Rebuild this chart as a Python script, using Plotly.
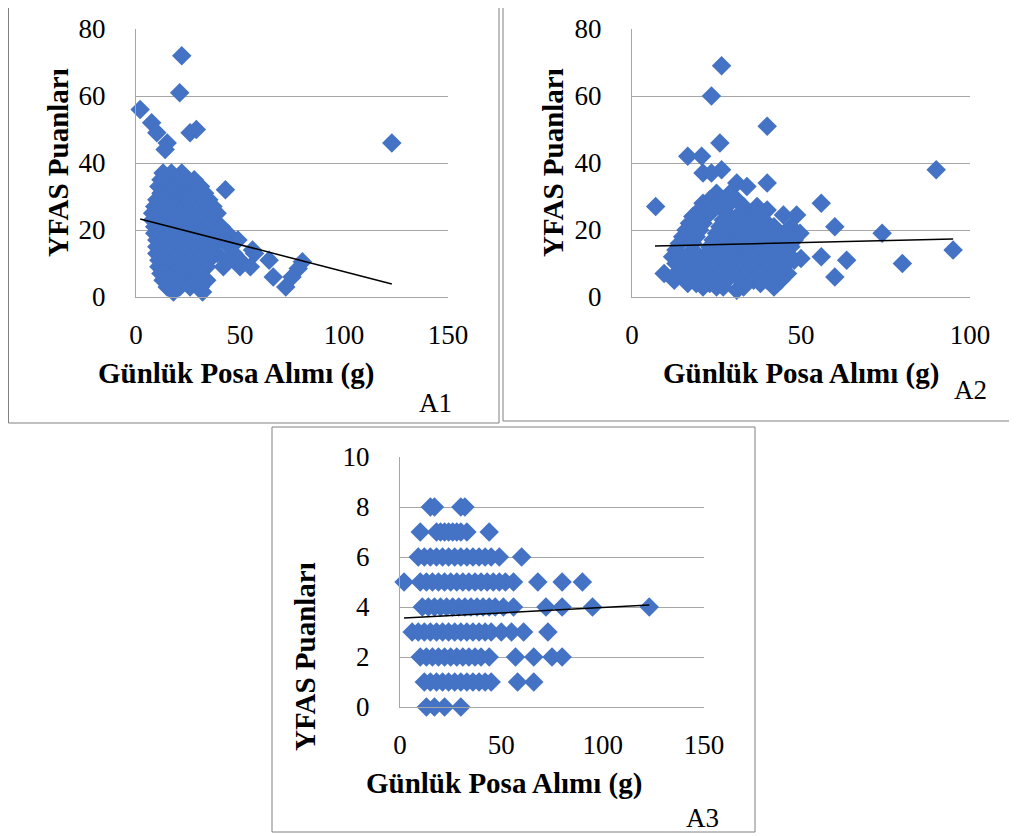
import plotly.graph_objects as go

W, H = 1017, 836
OFF = 8  # page body margin seen in the rendered page

# ---------------- data ----------------
# A1: daily fibre intake (g) vs YFAS score
a1_x = [22, 21, 2, 7.5, 10, 15, 14, 26, 29, 123, 43,
        13, 17, 22,
        12, 16, 20, 25, 28,
        11, 15, 19, 23, 27, 31,
        12, 16, 20, 24, 29, 33,
        10, 14, 18, 22, 26, 30, 35,
        9, 15, 19, 23, 27, 31, 37,
        8, 13, 17, 21, 25, 29, 33, 39,
        8, 12, 16, 20, 24, 28, 32, 36,
        9, 13, 17, 21, 25, 29, 34, 41,
        9, 12, 16, 20, 24, 28, 32, 38, 44,
        10, 13, 17, 21, 25, 30, 35, 40, 49,
        10, 14, 18, 22, 26, 31, 36, 45, 56,
        10, 13, 17, 21, 25, 29, 33, 39, 47, 57,
        11, 14, 18, 22, 26, 30, 35, 44, 50, 64,
        11, 13, 17, 21, 25, 29, 34, 42, 50, 55, 80, 78,
        12, 14, 18, 22, 27, 31, 66, 75,
        13, 15, 19, 23, 28, 34,
        15, 17, 21, 26, 31, 72,
        18, 32]
a1_y = [72, 61, 56, 52, 49, 46, 44, 49, 50, 46, 32,
        37, 37, 37,
        35, 35, 35, 35, 35,
        33, 33, 33, 33, 33, 33,
        31, 31, 31, 31, 31, 31,
        29, 29, 29, 29, 29, 29, 29,
        27, 27, 27, 27, 27, 27, 27,
        25, 25, 25, 25, 25, 25, 25, 25,
        23, 23, 23, 23, 23, 23, 23, 23,
        21, 21, 21, 21, 21, 21, 21, 21,
        19, 19, 19, 19, 19, 19, 19, 19, 19,
        17, 17, 17, 17, 17, 17, 17, 17, 17,
        15, 15, 15, 15, 15, 15, 15, 15, 14,
        13, 13, 13, 13, 13, 13, 13, 13, 13, 13,
        11, 11, 11, 11, 11, 11, 11, 11, 11, 11,
        9, 9, 9, 9, 9, 9, 9, 9, 9, 9, 10.5, 8.5,
        7, 7, 7, 7, 7, 7, 6, 6,
        5, 5, 5, 5, 5, 5,
        3, 3, 3, 3, 3, 3,
        1.5, 1.5]
a1_trend_x = [2, 123]
a1_trend_y = [23.3, 3.9]

# A2
a2_x = [26.5, 23.5, 40, 26, 16.5, 20.6, 21, 23.5, 26.5, 90, 7, 40, 31, 34,
        56, 60, 74, 95, 80, 63.5, 56, 60, 9.5, 12.5, 16.5, 31, 50, 49.7, 44.8, 48.7, 40,
        25, 29,
        23, 27, 31,
        21, 25, 28, 33, 37,
        20, 24, 28, 32, 36,
        18, 22, 27, 31, 35, 39,
        17, 21, 26, 30, 34, 38, 42, 47,
        16, 20, 25, 29, 33, 37, 41, 45,
        15, 19, 24, 28, 32, 36, 40, 44, 48,
        14, 18, 23, 27, 31, 35, 39, 43, 47,
        13, 18, 22, 26, 30, 34, 38, 42, 46,
        12, 16, 20, 24, 28, 32, 36, 40, 44, 48,
        13, 17, 21, 25, 29, 33, 37, 41, 45,
        14, 18, 22, 26, 30, 34, 38, 42, 46,
        16, 20, 24, 28, 32, 36, 40, 44,
        19, 23, 27, 33, 38, 43,
        21, 25, 42]
a2_y = [69, 60, 51, 46, 42, 42, 37, 37, 38, 38, 27, 34, 34, 33,
        28, 21, 19, 14, 10, 11, 12, 6, 7, 5, 4, 2, 11.5, 19, 24.5, 24.5, 26,
        31, 31,
        29, 29, 29,
        28, 27, 27, 27, 27,
        26, 26, 25, 25, 25,
        24, 24, 23, 23, 23, 23,
        22, 22, 21, 21, 21, 21, 21, 21,
        20, 20, 19, 19, 19, 19, 19, 19,
        18, 18, 17, 17, 17, 17, 17, 17, 17,
        16, 16, 15, 15, 15, 15, 15, 15, 15,
        14, 14, 13, 13, 13, 13, 13, 13, 13,
        12, 12, 11, 11, 11, 11, 11, 11, 11, 11,
        10, 10, 9, 9, 9, 9, 9, 9, 9,
        8, 8, 7, 7, 7, 7, 7, 7, 7,
        6, 6, 5, 5, 5, 5, 5, 5,
        4, 4, 3, 3, 4, 4,
        3, 3, 3]
a2_trend_x = [6.8, 95]
a2_trend_y = [15.2, 17.3]

# A3 (integer scores)
a3_x = [15, 17, 30, 32,
        10, 18, 20, 22, 24, 26, 28, 30, 33, 44,
        9, 12, 15, 18, 21, 24, 27, 30, 33, 36, 39, 42, 45, 49, 60,
        2, 10, 13, 16, 19, 22, 25, 28, 31, 34, 37, 40, 43, 46, 49, 52, 56, 68, 80, 90,
        11, 14, 17, 20, 23, 26, 29, 32, 35, 38, 41, 44, 47, 51, 56, 72, 80, 95, 123,
        6, 9, 12, 15, 18, 21, 24, 27, 30, 33, 36, 39, 42, 45, 50, 55, 61, 73,
        10, 13, 16, 19, 22, 25, 28, 31, 34, 37, 40, 44, 57, 66, 75, 80,
        12, 15, 18, 21, 24, 27, 30, 33, 36, 39, 42, 45, 58, 66,
        13, 17, 22, 30]
a3_y = [8, 8, 8, 8,
        7, 7, 7, 7, 7, 7, 7, 7, 7, 7,
        6, 6, 6, 6, 6, 6, 6, 6, 6, 6, 6, 6, 6, 6, 6,
        5, 5, 5, 5, 5, 5, 5, 5, 5, 5, 5, 5, 5, 5, 5, 5, 5, 5, 5, 5,
        4, 4, 4, 4, 4, 4, 4, 4, 4, 4, 4, 4, 4, 4, 4, 4, 4, 4, 4,
        3, 3, 3, 3, 3, 3, 3, 3, 3, 3, 3, 3, 3, 3, 3, 3, 3, 3,
        2, 2, 2, 2, 2, 2, 2, 2, 2, 2, 2, 2, 2, 2, 2, 2,
        1, 1, 1, 1, 1, 1, 1, 1, 1, 1, 1, 1, 1, 1,
        0, 0, 0, 0]
a3_trend_x = [2, 123]
a3_trend_y = [3.56, 4.08]

x_title = "Günlük Posa Alımı (g)"
y_title = "YFAS Puanları"
panel_labels = ["A1", "A2", "A3"]

# ---------------- styling ----------------
BLUE = "#4472C4"
GRID = "#a6a6a6"
FONT = "Liberation Serif"
MS = 15


def px(x):
    return (x - OFF) / W


def py(y):
    return 1 - (y - OFF) / H


fig = go.Figure()

panels = [
    (a1_x, a1_y, a1_trend_x, a1_trend_y, "x", "y"),
    (a2_x, a2_y, a2_trend_x, a2_trend_y, "x2", "y2"),
    (a3_x, a3_y, a3_trend_x, a3_trend_y, "x3", "y3"),
]
for xs, ys, tx, ty, xa, ya in panels:
    fig.add_trace(go.Scatter(x=xs, y=ys, mode="markers", xaxis=xa, yaxis=ya,
                             marker=dict(symbol="diamond", size=MS, color=BLUE,
                                         line=dict(width=0)),
                             cliponaxis=False, showlegend=False, hoverinfo="x+y"))
    fig.add_trace(go.Scatter(x=tx, y=ty, mode="lines", xaxis=xa, yaxis=ya,
                             line=dict(color="black", width=1.5),
                             cliponaxis=False, showlegend=False, hoverinfo="skip"))

tickfont = dict(family=FONT, size=27, color="black")


def xax(domain, rng, dtick, anchor):
    return dict(domain=domain, range=rng, dtick=dtick, tick0=0, anchor=anchor,
                showgrid=False, zeroline=False, showline=True, linecolor=GRID,
                linewidth=1, ticks="", tickfont=tickfont, ticklabelstandoff=14,
                automargin=False, fixedrange=True)


def yax(domain, rng, dtick, anchor):
    return dict(domain=domain, range=rng, dtick=dtick, tick0=0, anchor=anchor,
                showgrid=True, gridcolor=GRID, gridwidth=1, zeroline=False,
                showline=True, linecolor=GRID, linewidth=1, ticks="",
                tickfont=tickfont, ticklabelstandoff=24, automargin=False,
                fixedrange=True)


fig.update_layout(
    width=W, height=H, autosize=False,
    margin=dict(l=0, r=0, t=0, b=0, pad=0, autoexpand=False),
    paper_bgcolor="white", plot_bgcolor="white",
    xaxis=xax([px(136), px(448)], [0, 150], 50, "y"),
    yaxis=yax([py(297), py(29)], [0, 80], 20, "x"),
    xaxis2=xax([px(632), px(970)], [0, 100], 50, "y2"),
    yaxis2=yax([py(297), py(29)], [0, 80], 20, "x2"),
    xaxis3=xax([px(400), px(704)], [0, 150], 50, "y3"),
    yaxis3=yax([py(707), py(457)], [0, 10], 2, "x3"),
)

# panel borders (page-pixel coordinates; tops of A1/A2 lie above the page area)
BORDER = dict(color="#808080", width=1)


def seg(x0, y0, x1, y1):
    fig.add_shape(type="line", xref="paper", yref="paper",
                  x0=px(max(x0, OFF + 0.5)), x1=px(max(x1, OFF + 0.5)),
                  y0=py(max(y0, OFF)), y1=py(max(y1, OFF)), line=BORDER)


for x0, x1, y1 in [(6, 499, 423), (503, 1016, 421)]:
    seg(x0, 0, x0, y1)
    seg(x0, y1, x1, y1)
    seg(x1, 0, x1, y1)
fig.add_shape(type="rect", xref="paper", yref="paper",
              x0=px(272), x1=px(755), y0=py(832), y1=py(427),
              line=BORDER, fillcolor="rgba(0,0,0,0)")

titlefont = dict(family=FONT, size=29, color="black", weight="bold")
# x titles
for cx, cy in [(236, 373), (801, 373), (504, 783)]:
    fig.add_annotation(text=x_title, x=px(cx), y=py(cy), xref="paper", yref="paper",
                       showarrow=False, xanchor="center", yanchor="middle",
                       font=titlefont)
# y titles
for cx, cy in [(58, 163), (553, 163), (305, 657)]:
    fig.add_annotation(text=y_title, x=px(cx), y=py(cy), xref="paper", yref="paper",
                       showarrow=False, xanchor="center", yanchor="middle",
                       textangle=-90, font=titlefont)
# panel labels
for lab, (cx, cy) in zip(panel_labels, [(435, 403), (970, 390), (702, 818)]):
    fig.add_annotation(text=lab, x=px(cx), y=py(cy), xref="paper", yref="paper",
                       showarrow=False, xanchor="center", yanchor="middle",
                       font=dict(family=FONT, size=27, color="black"))

fig.write_html("out.html")
